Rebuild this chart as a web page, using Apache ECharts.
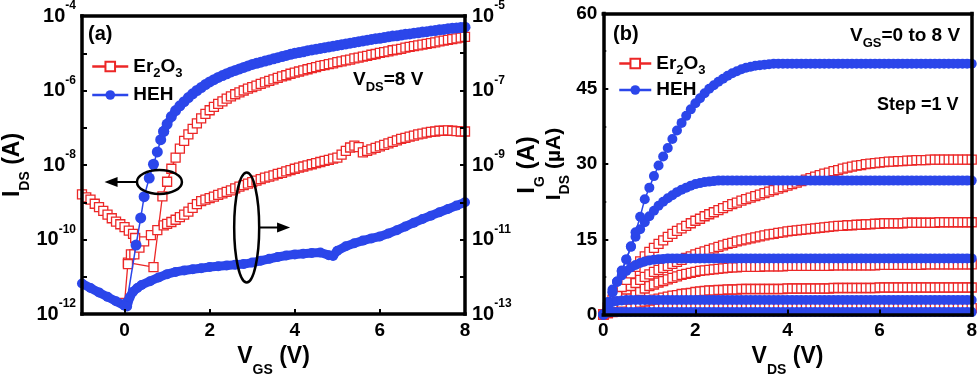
<!DOCTYPE html>
<html><head><meta charset="utf-8">
<script src="https://cdn.jsdelivr.net/npm/echarts@6/dist/echarts.min.js"></script>
<style>html,body{margin:0;padding:0;background:#fff}#c{width:980px;height:382px}</style>
</head><body><div id="c"></div>
<script>
// ---------- DATA: panel (a) transfer curves (log10 of current in A) ----------
const vgsTicks = [0, 2, 4, 6, 8];
const vgsTail = [1.0,1.1,1.2,1.3,1.4,1.5,1.6,1.7,1.8,1.9,2.0,2.1,2.2,2.3,2.4,2.5,2.6,2.7,2.8,2.9,3.0,3.1,3.2,3.3,3.4,3.5,3.6,3.7,3.8,3.9,4.0,4.1,4.2,4.3,4.4,4.5,4.6,4.7,4.8,4.9,5.0,5.1,5.2,5.3,5.4,5.5,5.6,5.7,5.8,5.9,6.0,6.1,6.2,6.3,6.4,6.5,6.6,6.7,6.8,6.9,7.0,7.1,7.2,7.3,7.4,7.5,7.6,7.7,7.8,7.9,8.0];

const erIdsHeadV = [0.0,0.08,0.68,0.89];
const erIdsHeadExp = [-11.7,-10.62,-10.74,-8.84];
const erIdsTailExp = [-8.45,-8.1,-7.8,-7.56,-7.35,-7.18,-7.03,-6.88,-6.75,-6.63,-6.53,-6.44,-6.36,-6.29,-6.22,-6.16,-6.1,-6.05,-6.0,-5.95,-5.91,-5.87,-5.82,-5.78,-5.74,-5.7,-5.66,-5.62,-5.59,-5.55,-5.52,-5.49,-5.46,-5.43,-5.4,-5.37,-5.34,-5.32,-5.29,-5.27,-5.24,-5.22,-5.19,-5.17,-5.14,-5.12,-5.09,-5.07,-5.04,-5.02,-4.99,-4.97,-4.95,-4.92,-4.9,-4.88,-4.85,-4.83,-4.81,-4.79,-4.77,-4.75,-4.73,-4.71,-4.68,-4.66,-4.64,-4.62,-4.6,-4.58,-4.56];

const hehIdsHeadV = [0.05,0.27,0.38,0.46,0.58,0.68,0.77,0.85,0.92];
const hehIdsHeadExp = [-11.7,-10.15,-9.42,-8.85,-8.35,-7.98,-7.65,-7.32,-7.1];
const hehIdsTailExp = [-6.9,-6.7,-6.54,-6.41,-6.3,-6.19,-6.09,-6.0,-5.92,-5.84,-5.77,-5.71,-5.65,-5.6,-5.55,-5.5,-5.46,-5.42,-5.38,-5.34,-5.3,-5.27,-5.24,-5.21,-5.18,-5.15,-5.12,-5.09,-5.06,-5.03,-5.0,-4.98,-4.96,-4.93,-4.91,-4.89,-4.87,-4.85,-4.83,-4.81,-4.79,-4.77,-4.75,-4.73,-4.71,-4.69,-4.67,-4.65,-4.63,-4.61,-4.6,-4.58,-4.56,-4.54,-4.53,-4.51,-4.49,-4.48,-4.46,-4.45,-4.43,-4.42,-4.4,-4.39,-4.37,-4.36,-4.34,-4.33,-4.32,-4.31,-4.3];

const erIgHeadV = [-1.0,-0.9,-0.8,-0.7,-0.6,-0.5,-0.4,-0.3,-0.2,-0.1,0.0,0.1,0.2,0.25,0.15,0.08,0.23,0.35,0.46,0.62,0.77,0.92];
const erIgHeadExp = [-9.79,-9.87,-9.93,-10.04,-10.13,-10.23,-10.33,-10.43,-10.52,-10.59,-10.67,-10.76,-10.85,-10.96,-11.4,-11.66,-11.4,-11.22,-11.05,-10.88,-10.75,-10.62];
const erIgTailExp = [-10.58,-10.53,-10.47,-10.4,-10.33,-10.25,-10.15,-10.05,-9.97,-9.93,-9.89,-9.85,-9.8,-9.76,-9.72,-9.68,-9.63,-9.58,-9.54,-9.5,-9.46,-9.42,-9.38,-9.34,-9.31,-9.28,-9.24,-9.21,-9.17,-9.14,-9.1,-9.07,-9.04,-9.01,-8.98,-8.95,-8.92,-8.89,-8.86,-8.83,-8.8,-8.72,-8.62,-8.53,-8.48,-8.52,-8.66,-8.62,-8.58,-8.54,-8.5,-8.46,-8.42,-8.38,-8.34,-8.3,-8.27,-8.24,-8.21,-8.18,-8.16,-8.13,-8.11,-8.1,-8.08,-8.08,-8.07,-8.08,-8.09,-8.1,-8.1];

const hehIgV = [-1.0,-0.8,-0.6,-0.4,-0.2,0.0,0.06,0.12,0.2,0.3,0.4,0.6,0.8,1.0,1.2,1.4,1.6,1.8,2.0,2.2,2.4,2.6,2.8,3.0,3.2,3.4,3.6,3.8,4.0,4.2,4.4,4.6,4.8,4.9,5.0,5.2,5.4,5.6,5.8,6.0,6.2,6.4,6.6,6.8,7.0,7.2,7.4,7.6,7.8,8.0];
const hehIgExp = [-12.18,-12.3,-12.42,-12.54,-12.66,-12.78,-12.8,-12.55,-12.4,-12.3,-12.22,-12.12,-12.02,-11.93,-11.87,-11.83,-11.8,-11.77,-11.74,-11.72,-11.7,-11.68,-11.66,-11.62,-11.57,-11.52,-11.47,-11.43,-11.4,-11.38,-11.36,-11.35,-11.42,-11.44,-11.3,-11.18,-11.1,-11.03,-10.97,-10.92,-10.84,-10.75,-10.65,-10.55,-10.45,-10.36,-10.27,-10.18,-10.09,-10.0];

// ---------- DATA: panel (b) output curves (µA) ----------
const vdsTicks = [0, 2, 4, 6, 8];
const idsTicks = [0, 15, 30, 45, 60];
const vds = [0,0.1,0.2,0.3,0.4,0.5,0.6,0.7,0.8,0.9,1.0,1.1,1.2,1.3,1.4,1.5,1.6,1.7,1.8,1.9,2.0,2.1,2.2,2.3,2.4,2.5,2.6,2.7,2.8,2.9,3.0,3.1,3.2,3.3,3.4,3.5,3.6,3.7,3.8,3.9,4.0,4.1,4.2,4.3,4.4,4.5,4.6,4.7,4.8,4.9,5.0,5.1,5.2,5.3,5.4,5.5,5.6,5.7,5.8,5.9,6.0,6.1,6.2,6.3,6.4,6.5,6.6,6.7,6.8,6.9,7.0,7.1,7.2,7.3,7.4,7.5,7.6,7.7,7.8,7.9,8.0];

const er8 = [0,1.5,3.0,4.3,5.5,6.9,8.2,9.5,10.6,11.6,12.5,13.3,14.1,14.8,15.5,16.1,16.7,17.2,17.7,18.2,18.7,19.1,19.6,20.0,20.4,20.8,21.2,21.6,22.0,22.3,22.7,23.0,23.3,23.6,23.9,24.2,24.5,24.8,25.1,25.4,25.7,26.0,26.3,26.6,26.9,27.2,27.5,27.8,28.1,28.3,28.6,28.8,29.1,29.3,29.5,29.7,29.8,30.0,30.1,30.2,30.3,30.4,30.5,30.5,30.6,30.6,30.7,30.7,30.8,30.8,30.8,30.9,30.9,30.9,30.9,30.9,30.9,30.9,30.9,30.9,30.9];
const er7 = [0,1.2,2.3,3.3,4.2,5.0,5.7,6.3,6.9,7.5,8.0,8.5,8.9,9.3,9.7,10.1,10.5,10.9,11.3,11.6,12.0,12.3,12.6,12.9,13.2,13.5,13.8,14.1,14.3,14.6,14.8,15.0,15.2,15.4,15.6,15.8,16.0,16.1,16.3,16.4,16.6,16.7,16.8,16.9,17.0,17.1,17.2,17.3,17.4,17.5,17.6,17.7,17.7,17.8,17.8,17.9,17.9,18.0,18.0,18.1,18.1,18.2,18.2,18.2,18.2,18.2,18.3,18.3,18.3,18.3,18.3,18.3,18.3,18.4,18.4,18.4,18.4,18.4,18.4,18.4,18.4];
const er6 = [0,0.6,1.2,1.8,2.4,3.0,3.6,4.2,4.7,5.2,5.7,6.0,6.4,6.7,7.0,7.3,7.6,7.9,8.1,8.3,8.5,8.7,8.8,8.9,9.0,9.1,9.2,9.3,9.4,9.4,9.5,9.5,9.5,9.5,9.5,9.6,9.6,9.6,9.6,9.6,9.7,9.7,9.7,9.7,9.7,9.7,9.7,9.7,9.7,9.7,9.8,9.8,9.8,9.8,9.8,9.8,9.8,9.8,9.8,9.8,9.9,9.9,9.9,9.9,9.9,9.9,9.9,9.9,9.9,9.9,10.0,10.0,10.0,10.0,10.0,10.0,10.0,10.0,10.0,10.0,10.0];
const er5 = [0,0.3,0.6,0.9,1.2,1.5,1.8,2.1,2.4,2.6,2.8,3.0,3.2,3.4,3.6,3.8,3.9,4.1,4.2,4.3,4.5,4.6,4.7,4.8,4.8,4.9,4.9,5.0,5.0,5.0,5.1,5.1,5.1,5.1,5.1,5.1,5.1,5.1,5.1,5.1,5.2,5.2,5.2,5.2,5.2,5.2,5.2,5.2,5.2,5.2,5.3,5.3,5.3,5.3,5.3,5.3,5.3,5.3,5.3,5.3,5.4,5.4,5.4,5.4,5.4,5.4,5.4,5.4,5.4,5.4,5.4,5.4,5.4,5.4,5.4,5.4,5.4,5.4,5.4,5.4,5.4];
const er4 = [0,0.3,0.5,0.7,0.8,0.9,1.0,1.1,1.1,1.2,1.2,1.3,1.3,1.3,1.3,1.3,1.3,1.3,1.3,1.3,1.3,1.3,1.3,1.3,1.3,1.3,1.3,1.3,1.3,1.3,1.3,1.3,1.3,1.3,1.3,1.3,1.3,1.3,1.3,1.3,1.3,1.3,1.3,1.3,1.3,1.3,1.3,1.3,1.3,1.3,1.3,1.3,1.3,1.3,1.3,1.3,1.3,1.3,1.3,1.3,1.3,1.3,1.3,1.3,1.3,1.3,1.3,1.3,1.3,1.3,1.3,1.3,1.3,1.3,1.3,1.3,1.3,1.3,1.3,1.3,1.3];

const heh8 = [0,2.2,4.5,6.5,8.6,11.0,13.6,16.4,19.5,23.0,25.3,27.6,29.7,31.5,33.2,35.0,36.7,38.2,39.6,40.9,42.1,43.1,44.1,45.0,45.7,46.4,47.0,47.6,48.1,48.5,48.9,49.2,49.4,49.6,49.7,49.8,49.9,50,50,50,50,50,50,50,50,50,50,50,50,50,50,50,50,50,50,50,50,50,50,50,50,50,50,50,50,50,50,50,50,50,50,50,50,50,50,50,50,50,50,50,50];
const heh7 = [0,2.2,4.4,6.6,8.8,11.0,13.5,15.5,17.0,18.4,19.6,20.7,21.7,22.5,23.2,23.8,24.4,24.9,25.3,25.7,26.0,26.2,26.4,26.5,26.6,26.7,26.7,26.7,26.7,26.7,26.7,26.7,26.7,26.7,26.7,26.7,26.7,26.7,26.7,26.7,26.7,26.7,26.7,26.7,26.7,26.7,26.7,26.7,26.7,26.7,26.7,26.7,26.7,26.7,26.7,26.7,26.7,26.7,26.7,26.7,26.7,26.7,26.7,26.7,26.7,26.7,26.7,26.7,26.7,26.7,26.7,26.7,26.7,26.7,26.7,26.7,26.7,26.7,26.7,26.7,26.7];
const heh6 = [0,2.5,5.0,6.6,7.8,8.7,9.4,9.9,10.3,10.6,10.8,10.95,11.05,11.1,11.2,11.2,11.2,11.2,11.2,11.2,11.2,11.2,11.2,11.2,11.2,11.2,11.2,11.2,11.2,11.2,11.2,11.2,11.2,11.2,11.2,11.2,11.2,11.2,11.2,11.2,11.2,11.2,11.2,11.2,11.2,11.2,11.2,11.2,11.2,11.2,11.2,11.2,11.2,11.2,11.2,11.2,11.2,11.2,11.2,11.2,11.2,11.2,11.2,11.2,11.2,11.2,11.2,11.2,11.2,11.2,11.2,11.2,11.2,11.2,11.2,11.2,11.2,11.2,11.2,11.2,11.2];
const heh5 = [0,1.8,2.5,2.7,2.8,2.9,2.9,2.9,2.9,2.9,2.9,2.9,2.9,2.9,2.9,2.9,2.9,2.9,2.9,2.9,2.9,2.9,2.9,2.9,2.9,2.9,2.9,2.9,2.9,2.9,2.9,2.9,2.9,2.9,2.9,2.9,2.9,2.9,2.9,2.9,2.9,2.9,2.9,2.9,2.9,2.9,2.9,2.9,2.9,2.9,2.9,2.9,2.9,2.9,2.9,2.9,2.9,2.9,2.9,2.9,2.9,2.9,2.9,2.9,2.9,2.9,2.9,2.9,2.9,2.9,2.9,2.9,2.9,2.9,2.9,2.9,2.9,2.9,2.9,2.9,2.9];
const heh4 = [0,0.4,0.5,0.5,0.5,0.5,0.5,0.5,0.5,0.5,0.5,0.5,0.5,0.5,0.5,0.5,0.5,0.5,0.5,0.5,0.5,0.5,0.5,0.5,0.5,0.5,0.5,0.5,0.5,0.5,0.5,0.5,0.5,0.5,0.5,0.5,0.5,0.5,0.5,0.5,0.5,0.5,0.5,0.5,0.5,0.5,0.5,0.5,0.5,0.5,0.5,0.5,0.5,0.5,0.5,0.5,0.5,0.5,0.5,0.5,0.5,0.5,0.5,0.5,0.5,0.5,0.5,0.5,0.5,0.5,0.5,0.5,0.5,0.5,0.5,0.5,0.5,0.5,0.5,0.5,0.5];

// ---------- annotation anchors (data coordinates, panel a, left axis) ----------
const annIds = [0.82, 3.5e-9];
const annIg = [2.87, 2.1e-10];
const annArrowLeftTip = -0.47;
const annArrowRightTip = 3.89;

// ---------- styling ----------
const FONT = "'Liberation Sans', Arial, Helvetica, sans-serif";
const RED = '#ec2727', BLUE = '#2b46ea', BLACK = '#000';

function logPairs(vs, exps) { return vs.map((v, i) => [v, Math.pow(10, exps[i])]); }
function linPairs(vs, ys) { return vs.map((v, i) => [v, ys[i]]); }

function sqSeries(name, data, xi, yi) {
  return { type: 'line', name, data, xAxisIndex: xi, yAxisIndex: yi, symbol: 'rect', symbolSize: 9,
    itemStyle: { color: '#fff', borderColor: RED, borderWidth: 1.3 },
    lineStyle: { color: RED, width: 1.3 }, z: 2, silent: true, emphasis: { disabled: true } };
}
function dotSeries(name, data, xi, yi, size, lw) {
  return { type: 'line', name, data, xAxisIndex: xi, yAxisIndex: yi, symbol: 'circle', symbolSize: size,
    itemStyle: { color: BLUE, borderWidth: 0 },
    lineStyle: { color: BLUE, width: lw }, z: 3, silent: true, emphasis: { disabled: true } };
}

const frameLine = { show: true, onZero: false, lineStyle: { color: BLACK, width: 3.5, cap: 'square' } };
const tickStyle = { show: true, inside: true, length: 5, lineStyle: { color: BLACK, width: 2 } };
const numLabel = { fontSize: 19, fontWeight: 'bold', color: BLACK, fontFamily: FONT };
const logRich = {
  b: { fontSize: 20, fontWeight: 'bold', color: BLACK, fontFamily: FONT, lineHeight: 32 },
  s: { fontSize: 12, fontWeight: 'bold', color: BLACK, fontFamily: FONT, lineHeight: 12, verticalAlign: 'top' }
};
function nameRich(size, lh, sub) {
  return {
    m: { fontSize: size, fontWeight: 'bold', color: BLACK, fontFamily: FONT, lineHeight: lh },
    s: { fontSize: sub, fontWeight: 'bold', color: BLACK, fontFamily: FONT, lineHeight: 14, verticalAlign: 'bottom' }
  };
}
function logFmt(parity) {
  return function (v) {
    const e = Math.round(Math.log10(v));
    return (Math.abs(e % 2) === parity) ? '{b|10}{s|' + e + '}' : '';
  };
}
function frameAxis(gridIndex, position, min, max) {
  return { gridIndex, type: 'value', position, min, max, z: 5, axisLine: frameLine,
    axisTick: { show: false }, axisLabel: { show: false }, splitLine: { show: false } };
}

const chart = echarts.init(document.getElementById('c'), null, { renderer: 'canvas', width: 980, height: 382 });

const legendRich = {
  m: { fontSize: 19, fontWeight: 'bold', color: BLACK, fontFamily: FONT, lineHeight: 26 },
  s: { fontSize: 13, fontWeight: 'bold', color: BLACK, fontFamily: FONT, lineHeight: 13, verticalAlign: 'bottom' }
};
function legendFmt(n) { return n === 'Er2O3' ? '{m|Er}{s|2}{m|O}{s|3}' : '{m|' + n + '}'; }

const hehIdsHead = logPairs(hehIdsHeadV, hehIdsHeadExp);
const hehIdsTail = logPairs([hehIdsHeadV[hehIdsHeadV.length - 1]].concat(vgsTail), [hehIdsHeadExp[hehIdsHeadExp.length - 1]].concat(hehIdsTailExp));

const option = {
  animation: false,
  backgroundColor: '#fff',
  textStyle: { fontFamily: FONT },
  grid: [
    { left: 75, top: 13.5, width: 390, height: 308.2 },
    { left: 603.3, top: 13.5, width: 370.5, height: 307.5 }
  ],
  legend: [
    { data: ['Er2O3', 'HEH'], left: 86, top: 52, orient: 'vertical', itemWidth: 36, itemHeight: 12, itemGap: 6,
      selectedMode: false, formatter: legendFmt, textStyle: { fontSize: 19, fontWeight: 'bold', rich: legendRich }, lineStyle: { width: 2.5 } },
    { data: ['Er2O3', 'HEH'], left: 613, top: 49, orient: 'vertical', itemWidth: 32, itemHeight: 12, itemGap: 4,
      selectedMode: false, formatter: legendFmt, textStyle: { fontSize: 19, fontWeight: 'bold', rich: legendRich }, lineStyle: { width: 2.5 } }
  ],
  xAxis: [
    { gridIndex: 0, type: 'value', min: -1, max: 8, position: 'bottom', z: 5, axisLine: frameLine,
      axisTick: Object.assign({ customValues: vgsTicks }, tickStyle),
      axisLabel: Object.assign({ customValues: vgsTicks, margin: 7 }, numLabel),
      splitLine: { show: false },
      name: '{m|V}{s|GS}{m| (V)}', nameLocation: 'middle', nameGap: 23, nameTextStyle: { fontSize: 23, fontWeight: 'bold', rich: nameRich(23, 40, 14) } },
    frameAxis(0, 'top', -1, 8),
    { gridIndex: 1, type: 'value', min: 0, max: 8, interval: 2, position: 'bottom', z: 5, axisLine: frameLine,
      axisTick: tickStyle, axisLabel: Object.assign({ margin: 7 }, numLabel),
      splitLine: { show: false },
      name: '{m|V}{s|DS}{m| (V)}', nameLocation: 'middle', nameGap: 18, nameTextStyle: { fontSize: 23, fontWeight: 'bold', rich: nameRich(23, 40, 14) } },
    frameAxis(1, 'top', 0, 8)
  ],
  yAxis: [
    { gridIndex: 0, type: 'log', logBase: 10, min: 1e-12, max: 1e-4, splitNumber: 8, position: 'left', z: 5,
      axisLine: frameLine, axisTick: tickStyle,
      axisLabel: { formatter: logFmt(0), fontSize: 20, fontWeight: 'bold', color: BLACK, rich: logRich, margin: 6 },
      splitLine: { show: false }, minorTick: { show: false },
      name: '{m|I}{s|DS}{m| (A)}', nameLocation: 'middle', nameGap: 49, nameTextStyle: { fontSize: 23, fontWeight: 'bold', rich: nameRich(23, 40, 14) } },
    { gridIndex: 0, type: 'log', logBase: 10, min: 1e-13, max: 1e-5, splitNumber: 8, position: 'right', z: 5,
      axisLine: frameLine, axisTick: tickStyle,
      axisLabel: { formatter: logFmt(1), fontSize: 20, fontWeight: 'bold', color: BLACK, rich: logRich, margin: 7 },
      splitLine: { show: false },
      name: '{m|I}{s|G}{m| (A)}', nameLocation: 'middle', nameGap: 34, nameTextStyle: { fontSize: 24, fontWeight: 'bold', rich: nameRich(24, 40, 14) } },
    { gridIndex: 1, type: 'value', min: 0, max: 60, interval: 15, position: 'left', z: 5,
      axisLine: frameLine, axisTick: tickStyle,
      minorTick: { show: true, splitNumber: 2, length: 3, lineStyle: { color: BLACK, width: 1.5 } },
      axisLabel: Object.assign({ margin: 6 }, numLabel),
      splitLine: { show: false },
      name: '{m|I}{s|DS}{m| (µA)}', nameLocation: 'middle', nameGap: 29, nameTextStyle: { fontSize: 21, fontWeight: 'bold', rich: nameRich(21, 36, 14) } },
    frameAxis(1, 'right', 0, 60)
  ],
  series: [
    sqSeries('Er2O3', logPairs(erIdsHeadV.concat(vgsTail), erIdsHeadExp.concat(erIdsTailExp)), 0, 0),
    sqSeries('Er2O3', logPairs(erIgHeadV.concat(vgsTail), erIgHeadExp.concat(erIgTailExp)), 0, 1),
    dotSeries('HEH', hehIdsHead, 0, 0, 11, 1.5),
    dotSeries('HEH', hehIdsTail, 0, 0, 11, 8),
    dotSeries('HEH', logPairs(hehIgV, hehIgExp), 0, 1, 10, 9),
    sqSeries('Er2O3', linPairs(vds, er4), 2, 2),
    sqSeries('Er2O3', linPairs(vds, er5), 2, 2),
    sqSeries('Er2O3', linPairs(vds, er6), 2, 2),
    sqSeries('Er2O3', linPairs(vds, er7), 2, 2),
    sqSeries('Er2O3', linPairs(vds, er8), 2, 2),
    dotSeries('HEH', linPairs(vds, heh4), 2, 2, 10, 1.5),
    dotSeries('HEH', linPairs(vds, heh5), 2, 2, 10, 1.5),
    dotSeries('HEH', linPairs(vds, heh6), 2, 2, 10, 1.5),
    dotSeries('HEH', linPairs(vds, heh7), 2, 2, 10, 1.5),
    dotSeries('HEH', linPairs(vds, heh8), 2, 2, 10, 1.5)
  ]
};
chart.setOption(option);

// ---------- annotations ----------
function toPx(p) { return chart.convertToPixel({ xAxisIndex: 0, yAxisIndex: 0 }, p); }
const e1 = toPx(annIds), e2 = toPx(annIg);
const tipL = toPx([annArrowLeftTip, annIds[1]])[0];
const tipR = toPx([annArrowRightTip, annIg[1]])[0];
const rx1 = 22.5, ry1 = 12, rx2 = 12.5, ry2 = 55;
const annStroke = { fill: 'none', stroke: BLACK, lineWidth: 2.5 };
function txtRich(size, lh, sub) {
  return {
    m: { fontSize: size, fontWeight: 'bold', fill: BLACK, fontFamily: FONT, lineHeight: lh },
    s: { fontSize: sub, fontWeight: 'bold', fill: BLACK, fontFamily: FONT, lineHeight: 14, verticalAlign: 'bottom' }
  };
}
chart.setOption({
  graphic: [
    { type: 'ellipse', z: 20, shape: { cx: e1[0], cy: e1[1], rx: rx1, ry: ry1 }, style: annStroke },
    { type: 'line', z: 20, shape: { x1: e1[0] - rx1, y1: e1[1], x2: tipL + 8, y2: e1[1] }, style: { stroke: BLACK, lineWidth: 2 } },
    { type: 'polygon', z: 20, shape: { points: [[tipL, e1[1]], [tipL + 13, e1[1] - 5], [tipL + 13, e1[1] + 5]] }, style: { fill: BLACK } },
    { type: 'ellipse', z: 20, shape: { cx: e2[0], cy: e2[1], rx: rx2, ry: ry2 }, style: annStroke },
    { type: 'line', z: 20, shape: { x1: e2[0] + rx2, y1: e2[1], x2: tipR - 8, y2: e2[1] }, style: { stroke: BLACK, lineWidth: 2 } },
    { type: 'polygon', z: 20, shape: { points: [[tipR, e2[1]], [tipR - 13, e2[1] - 5], [tipR - 13, e2[1] + 5]] }, style: { fill: BLACK } },
    { type: 'text', z: 20, left: 88, top: 24, style: { text: '(a)', font: 'bold 20px ' + FONT, fill: BLACK } },
    { type: 'text', z: 20, left: 613, top: 24, style: { text: '(b)', font: 'bold 20px ' + FONT, fill: BLACK } },
    { type: 'text', z: 20, left: 353, top: 70, style: { text: '{m|V}{s|DS}{m|=8 V}', rich: txtRich(19, 28, 13) } },
    { type: 'text', z: 20, left: 850, top: 26, style: { text: '{m|V}{s|GS}{m|=0 to 8 V}', rich: txtRich(19, 28, 13) } },
    { type: 'text', z: 20, left: 877, top: 96, style: { text: 'Step =1 V', font: 'bold 18px ' + FONT, fill: BLACK } }
  ]
});
</script>
</body></html>
